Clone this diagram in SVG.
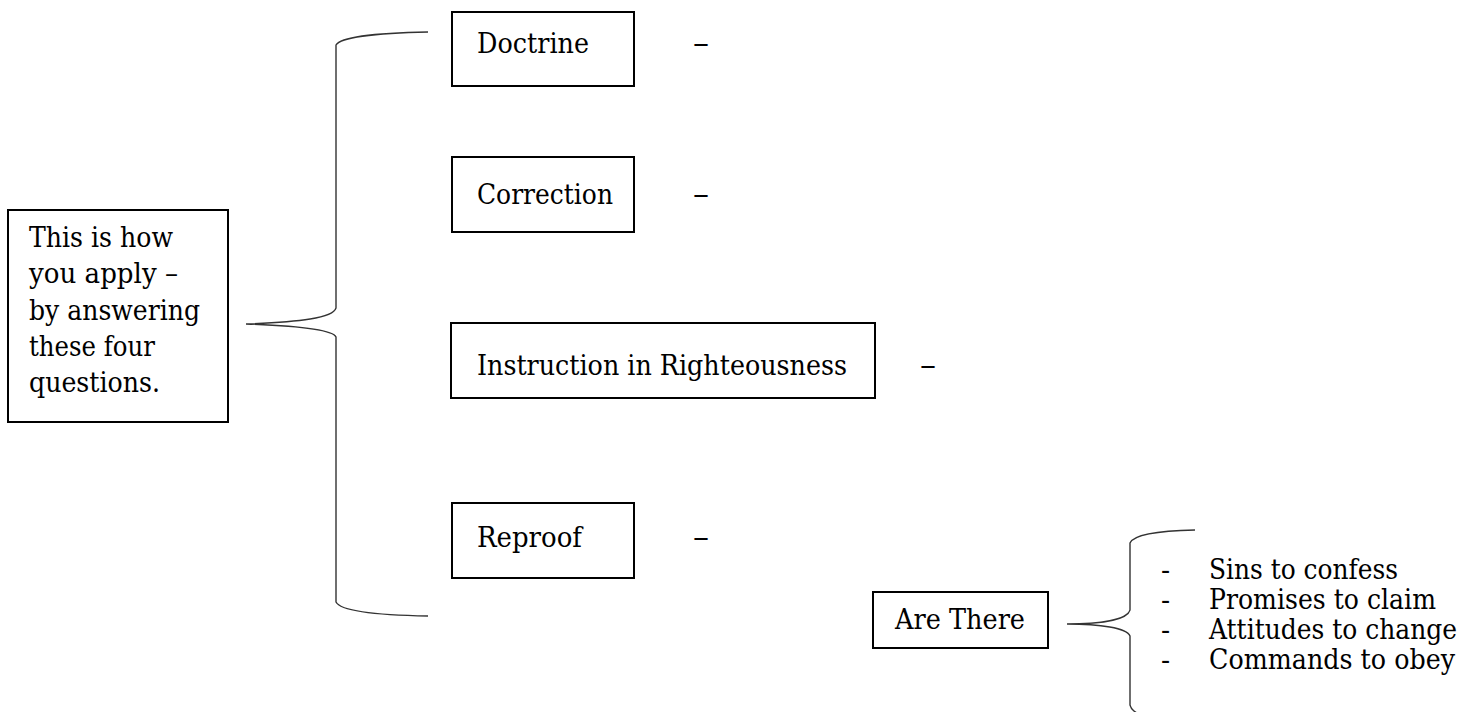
<svg xmlns="http://www.w3.org/2000/svg" width="1478" height="712" viewBox="0 0 1478 712">
<style>
.box{fill:#fff;stroke:#000;stroke-width:2}
.t{font-family:"DejaVu Serif","Liberation Serif",serif;font-size:27px;fill:#000}
.d{font-family:"DejaVu Serif","Liberation Serif",serif;font-size:30px;fill:#000}
.br{fill:none;stroke:#333;stroke-width:1.4}
</style>
<rect width="1478" height="712" fill="#fff"/>
<g id="connectors">
<path class="br" d="M428,32 C372,33 340,38 336,45 L336,308 C333,318 300,322 246,324 C300,326 333,330 336,337 L336,602 C340,610 372,615 428,616"/>
<path class="br" d="M1195,530 C1150,531 1133,536 1130,543 L1130,610 C1127,620 1100,624 1067,624 C1100,624 1127,628 1130,636 L1130,705 C1131,709 1133,711 1137,713"/>
</g>
<g id="node-apply">
<rect class="box" x="8" y="210" width="220" height="212"/>
<text class="t" x="29" y="246.5" textLength="144" lengthAdjust="spacingAndGlyphs">This is how</text>
<text class="t" x="29" y="283" textLength="149" lengthAdjust="spacingAndGlyphs">you apply –</text>
<text class="t" x="29" y="319.5" textLength="171" lengthAdjust="spacingAndGlyphs">by answering</text>
<text class="t" x="29" y="356" textLength="126" lengthAdjust="spacingAndGlyphs">these four</text>
<text class="t" x="29" y="392" textLength="131" lengthAdjust="spacingAndGlyphs">questions.</text>
</g>
<g id="node-doctrine">
<rect class="box" x="452" y="12" width="182" height="74"/>
<text class="t" x="477" y="52.5" textLength="112" lengthAdjust="spacingAndGlyphs">Doctrine</text>
<text class="d" x="693" y="53" textLength="16" lengthAdjust="spacingAndGlyphs">–</text>
</g>
<g id="node-correction">
<rect class="box" x="452" y="157" width="182" height="75"/>
<text class="t" x="477" y="203.5" textLength="136" lengthAdjust="spacingAndGlyphs">Correction</text>
<text class="d" x="693" y="204" textLength="16" lengthAdjust="spacingAndGlyphs">–</text>
</g>
<g id="node-instruction">
<rect class="box" x="451" y="323" width="424" height="75"/>
<text class="t" x="477" y="375" textLength="370" lengthAdjust="spacingAndGlyphs">Instruction in Righteousness</text>
<text class="d" x="920" y="375" textLength="16" lengthAdjust="spacingAndGlyphs">–</text>
</g>
<g id="node-reproof">
<rect class="box" x="452" y="503" width="182" height="75"/>
<text class="t" x="477" y="546.5" textLength="105" lengthAdjust="spacingAndGlyphs">Reproof</text>
<text class="d" x="693" y="547" textLength="16" lengthAdjust="spacingAndGlyphs">–</text>
</g>
<g id="node-arethere">
<rect class="box" x="873" y="592" width="175" height="56"/>
<text class="t" x="895" y="628.5" textLength="130" lengthAdjust="spacingAndGlyphs">Are There</text>
</g>
<g id="node-list">
<text class="t" x="1161" y="578.5">-</text>
<text class="t" x="1209" y="578.5" textLength="189" lengthAdjust="spacingAndGlyphs">Sins to confess</text>
<text class="t" x="1161" y="608.5">-</text>
<text class="t" x="1209" y="608.5" textLength="227" lengthAdjust="spacingAndGlyphs">Promises to claim</text>
<text class="t" x="1161" y="638.5">-</text>
<text class="t" x="1209" y="638.5" textLength="248" lengthAdjust="spacingAndGlyphs">Attitudes to change</text>
<text class="t" x="1161" y="668.5">-</text>
<text class="t" x="1209" y="668.5" textLength="246" lengthAdjust="spacingAndGlyphs">Commands to obey</text>
</g>
</svg>
